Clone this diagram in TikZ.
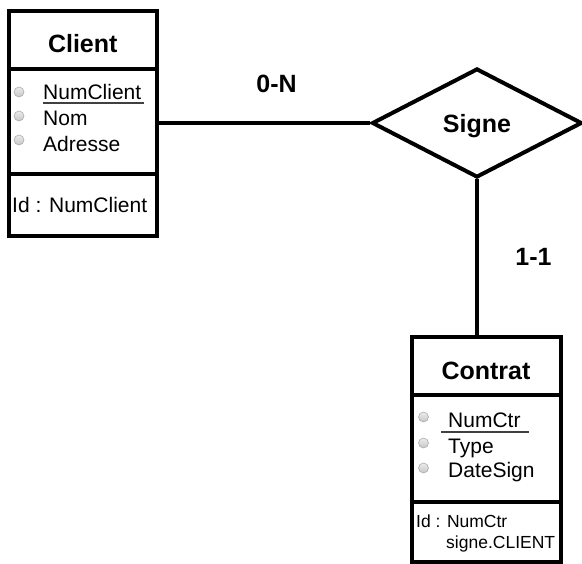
\documentclass[tikz,border=0pt]{standalone}
\usepackage{fontspec}
\setmainfont{Liberation Sans}
\usetikzlibrary{shapes.geometric}

\tikzset{
  frame/.style={draw=black, line width=4pt, inner sep=0pt, fill=white},
  divider/.style={draw=black, line width=4pt},
  link/.style={draw=black, line width=4pt},
  relation/.style={diamond, draw=black, line width=4pt, inner sep=0pt,
    minimum width=210pt, minimum height=109pt, text depth=0pt,
    font=\fontsize{25}{30}\selectfont\bfseries},
  title/.style={font=\fontsize{25}{30}\selectfont\bfseries, inner sep=0pt, anchor=base},
  card/.style={font=\fontsize{25}{30}\selectfont\bfseries, inner sep=0pt, anchor=base},
  attr/.style={font=\fontsize{21}{25}\selectfont, inner sep=0pt, anchor=base west},
  ident/.style={font=\fontsize{21}{25}\selectfont, inner sep=0pt, anchor=base west},
  identsmall/.style={font=\fontsize{17.5}{21}\selectfont, inner sep=0pt, anchor=base west},
  bullet/.style={circle, inner sep=0pt, minimum size=10pt, draw=gray!65,
    line width=0.6pt, top color=gray!15, bottom color=gray!45},
  keyline/.style={draw=black!75, line width=1.3pt}
}

\begin{document}
\begin{tikzpicture}[x=1pt, y=-1pt]
  \useasboundingbox (0,0) rectangle (582,564);

  % entity Client
  \node[frame, minimum width=147.5pt, minimum height=225pt] (client) at (82.75,123.5) {};
  \draw[divider] (client.west |- 0,69) -- (client.east |- 0,69);
  \draw[divider] (client.west |- 0,174) -- (client.east |- 0,174);
  \node[title] (clientname) at (82.75,53) {Client};
  \node[bullet] (cb1) at (19,92) {};
  \node[bullet] (cb2) at (19,116) {};
  \node[bullet] (cb3) at (19,140) {};
  \node[attr] (numclient) at (43,100) {NumClient};
  \node[attr] (nom) at (43,126) {Nom};
  \node[attr] (adresse) at (43,152) {Adresse};
  \draw[keyline] (numclient.base west) ++(0,3) -- ++(101,0);
  \node[ident] (clientid) at (12,213) {Id : NumClient};

  % relation Signe
  \node[relation] (signe) at (477,123) {Signe};

  % entity Contrat
  \node[frame, minimum width=149pt, minimum height=225pt] (contrat) at (486.5,449.5) {};
  \draw[divider] (contrat.west |- 0,395) -- (contrat.east |- 0,395);
  \draw[divider] (contrat.west |- 0,502) -- (contrat.east |- 0,502);
  \node[title] (contratname) at (486,380) {Contrat};
  \node[bullet] (tb1) at (423.5,417) {};
  \node[bullet] (tb2) at (423.5,443) {};
  \node[bullet] (tb3) at (423.5,468) {};
  \node[attr] (numctr) at (448,428) {NumCtr};
  \node[attr] (type) at (448,454) {Type};
  \node[attr] (datesign) at (448,478) {DateSign};
  \draw[keyline] (numctr.base west) ++(-7,4) -- ++(88,0);
  \node[identsmall] (contratid) at (416,528) {Id : NumCtr};
  \node[identsmall] (contratid2) at (446,548) {signe.CLIENT};

  % connectors
  \draw[link] (signe.west -| client.east) -- (signe.west);
  \draw[link] (signe.south) -- (signe.south |- contrat.north);

  % cardinalities
  \node[card] (cardclient) at (276.5,93) {0-N};
  \node[card] (cardcontrat) at (533.5,266) {1-1};
\end{tikzpicture}
\end{document}
